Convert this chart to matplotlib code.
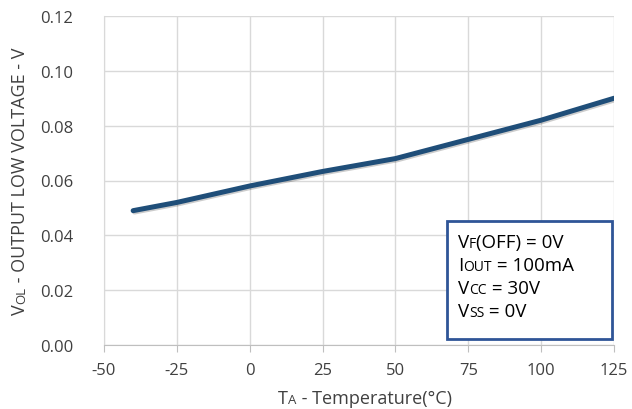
import matplotlib
matplotlib.use("Agg")
import matplotlib.pyplot as plt
import matplotlib.patheffects as pe
from matplotlib.patches import Rectangle
from matplotlib.transforms import IdentityTransform, offset_copy

# data
temps = [-40, -25, 0, 25, 50, 75, 100, 125]
vol = [0.049, 0.052, 0.058, 0.0633, 0.068, 0.075, 0.082, 0.090]
x_ticks = [-50, -25, 0, 25, 50, 75, 100, 125]
y_ticks = [0.00, 0.02, 0.04, 0.06, 0.08, 0.10, 0.12]

# conditions box: (main, subscript, rest)
conditions = [("V", "F", "(OFF) = 0V"),
              ("I", "OUT", " = 100mA"),
              ("V", "CC", " = 30V"),
              ("V", "SS", " = 0V")]

plt.rcParams['font.family'] = ['Open Sans', 'DejaVu Sans']
plt.rcParams['axes.unicode_minus'] = False
txt_color = '#404040'
grid_color = '#D9D9D9'

fig = plt.figure(figsize=(6.32, 4.10), dpi=100)
ax = fig.add_axes([104/632, 64/410, 510/632, 329/410])

ax.plot(temps, vol, color='#1F4E79', lw=3.6, solid_capstyle='round', zorder=3,
        path_effects=[pe.SimpleLineShadow(offset=(1, -1), alpha=0.2), pe.Normal()])

ax.set_xlim(-50, 125)
ax.set_ylim(0, 0.12)
ax.set_xticks(x_ticks)
ax.set_yticks(y_ticks)
ax.set_yticklabels([f"{v:.2f}" for v in y_ticks])
ax.grid(True, color=grid_color, lw=1)
ax.set_axisbelow(True)
for s in ['top', 'right']:
    ax.spines[s].set_visible(False)
ax.spines['left'].set_color(grid_color)
ax.spines['bottom'].set_color('#BFBFBF')
ax.tick_params(axis='y', length=0, pad=22, labelsize=12, labelcolor=txt_color)
ax.tick_params(axis='x', length=5, color='#BFBFBF', pad=7, labelsize=12, labelcolor=txt_color)

renderer = fig.canvas.get_renderer()


def advance(s, size):
    t = fig.text(0, 0, 'x' + s + 'x', fontsize=size)
    w1 = t.get_window_extent(renderer).width
    t.set_text('xx')
    w2 = t.get_window_extent(renderer).width
    t.remove()
    return w1 - w2


def rich_text(x, y, parts, rotation=0, center=False, color=txt_color):
    widths = [advance(s, size) for s, size in parts]
    off = -sum(widths) / 2 if center else 0
    for (s, size), w in zip(parts, widths):
        dx, dy = (off, 0) if rotation == 0 else (0, off)
        tr = offset_copy(IdentityTransform(), fig=fig, x=dx, y=dy, units='dots')
        fig.text(x, y, s, fontsize=size, transform=tr, rotation=rotation,
                 rotation_mode='anchor', ha='left', va='baseline', color=color)
        off += w


# axis labels with small subscripts
rich_text(365, 6, [("T", 13), ("A", 9.5), (" - Temperature(°C)", 13)], center=True)
rich_text(25, 229, [("V", 13), ("OL", 9.5), (" - OUTPUT LOW VOLTAGE - V", 13)],
          rotation=90, center=True)

# conditions box
ax.add_patch(Rectangle((67.7, 0.0022), 56.6, 0.043, facecolor='white',
                       edgecolor='#2F5597', lw=2, zorder=4))
for i, (main, sub, rest) in enumerate(conditions):
    rich_text(458, 410 - 248 - i * 23, [(main, 13.5), (sub, 10), (rest, 13.5)],
              color='black')

fig.savefig('out.png', dpi=100)
